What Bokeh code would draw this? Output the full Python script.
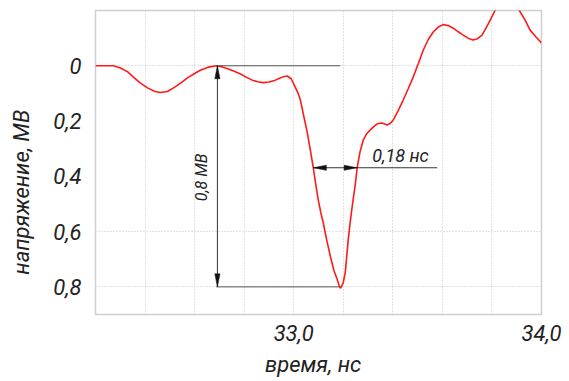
import numpy as np
from bokeh.plotting import figure
from bokeh.models import Range1d, FixedTicker, Label
from bokeh.embed import file_html
from bokeh.resources import INLINE

# time, ns
t_ns = [32.2, 32.273, 32.301, 32.33, 32.353, 32.38, 32.41, 32.44, 32.462, 32.49, 32.515,
        32.545, 32.571, 32.6, 32.623, 32.655, 32.688, 32.712, 32.736, 32.76, 32.785, 32.81,
        32.833, 32.855, 32.877, 32.9, 32.926, 32.945, 32.958, 32.974, 32.99, 33.006, 33.017,
        33.027, 33.04, 33.055, 33.067, 33.079, 33.089, 33.099, 33.109, 33.119, 33.133,
        33.148, 33.162, 33.176, 33.183, 33.188, 33.194, 33.2, 33.208, 33.214, 33.22, 33.228,
        33.236, 33.242, 33.248, 33.256, 33.268, 33.281, 33.295, 33.309, 33.323, 33.337,
        33.357, 33.377, 33.39, 33.402, 33.42, 33.442, 33.462, 33.482, 33.503, 33.523,
        33.543, 33.563, 33.583, 33.603, 33.623, 33.644, 33.664, 33.684, 33.704, 33.724,
        33.742, 33.76, 33.777, 33.793, 33.813, 33.837, 33.861, 33.885, 33.91, 33.934,
        33.954, 33.978, 34.0]
# voltage, MV (drawn downward)
u_mv = [0.0, 0.0, 0.008, 0.022, 0.041, 0.062, 0.08, 0.093, 0.097, 0.093, 0.08,
        0.062, 0.044, 0.028, 0.016, 0.005, 0.0, 0.004, 0.012, 0.02, 0.03, 0.042,
        0.052, 0.058, 0.061, 0.059, 0.052, 0.044, 0.04, 0.037, 0.047, 0.077, 0.098,
        0.124, 0.18, 0.243, 0.305, 0.369, 0.43, 0.485, 0.53, 0.568, 0.63,
        0.69, 0.74, 0.774, 0.795, 0.805, 0.797, 0.784, 0.748, 0.69, 0.629, 0.565,
        0.51, 0.47, 0.434, 0.369, 0.31, 0.268, 0.245, 0.232, 0.22, 0.21,
        0.207, 0.214, 0.208, 0.196, 0.165, 0.124, 0.083, 0.041, -0.008, -0.057,
        -0.095, -0.122, -0.14, -0.149, -0.146, -0.136, -0.123, -0.111, -0.1, -0.093,
        -0.098, -0.111, -0.138, -0.165, -0.201, -0.237, -0.252, -0.237, -0.201, -0.165,
        -0.129, -0.104, -0.083]

x_ticks = [33.0, 34.0]
x_tick_labels = ["33,0", "34,0"]
y_ticks = [0.0, 0.2, 0.4, 0.6, 0.8]
y_tick_labels = ["0", "0,2", "0,4", "0,6", "0,8"]
x_grid = [32.4, 32.6, 32.8, 33.0, 33.2, 33.4, 33.6, 33.8]
y_grid = [0.0, 0.6, 0.8]
x_title = "время, нс"
y_title = "напряжение, МВ"

# dimension annotations
amp_t = [32.688, 33.188]      # horizontal extension lines (start, end)
amp_levels = [0.0, 0.8]
amp_dim_t = 32.692
width_level = 0.369
width_t = [33.079, 33.256]
width_leader_end = 33.579

FONT = "Roboto"
X0, X1 = 32.2, 34.0
Y_BOTTOM, Y_TOP = 0.9, -0.2
NB = "\u00a0"

p = figure(width=569, height=381, output_backend="svg", toolbar_location=None,
           x_range=Range1d(X0, X1), y_range=Range1d(Y_BOTTOM, Y_TOP),
           min_border_left=95, min_border_right=28, min_border_top=10,
           min_border_bottom=67)
p.background_fill_color = "white"
p.border_fill_color = "white"
p.outline_line_color = "#cfcfcf"
p.outline_line_width = 1.5

for ax in (p.xaxis[0], p.yaxis[0]):
    ax.axis_line_color = None
    ax.major_tick_line_color = None
    ax.minor_tick_line_color = None
    ax.major_label_text_font = FONT
    ax.major_label_text_font_style = "italic"
    ax.major_label_text_font_size = "22px"
    ax.major_label_text_color = "#222222"
    ax.axis_label_text_font = FONT
    ax.axis_label_text_font_style = "italic"
    ax.axis_label_text_font_size = "22px"
    ax.axis_label_text_color = "#222222"

p.xaxis.ticker = FixedTicker(ticks=x_ticks)
p.xaxis.major_label_overrides = {t: s for t, s in zip(x_ticks, x_tick_labels)}
p.xaxis.major_label_standoff = 4
p.xaxis.axis_label = x_title + NB * 2
p.xaxis.axis_label_standoff = 8
p.yaxis.ticker = FixedTicker(ticks=y_ticks)
p.yaxis.major_label_overrides = {t: s for t, s in zip(y_ticks, y_tick_labels)}
p.yaxis.major_label_standoff = 8
p.yaxis.axis_label = y_title + NB * 11
p.yaxis.axis_label_standoff = 16

p.xgrid.ticker = FixedTicker(ticks=x_grid)
p.ygrid.ticker = FixedTicker(ticks=y_grid)
for g in (p.xgrid[0], p.ygrid[0]):
    g.grid_line_color = "#c4c4c4"
    g.grid_line_dash = "1 2"
    g.grid_line_width = 1

# curve
p.line(t_ns, u_mv, line_color="#ff1a1a", line_width=1.6)

# dimension lines
dark = "#333333"
for lv in amp_levels:
    p.line([amp_t[0], amp_t[1]], [lv, lv], line_color="#555555", line_width=1)
p.line([amp_dim_t, amp_dim_t], amp_levels, line_color=dark, line_width=1)
p.line([width_t[0], width_leader_end], [width_level, width_level], line_color=dark, line_width=1)

kx = 446.0 / (X1 - X0)
ky = 304.0 / (Y_BOTTOM - Y_TOP)
hl, hw = 13.0, 2.6
xs_heads = [
    [amp_dim_t, amp_dim_t - hw / kx, amp_dim_t + hw / kx],
    [amp_dim_t, amp_dim_t - hw / kx, amp_dim_t + hw / kx],
    [width_t[0], width_t[0] + hl / kx, width_t[0] + hl / kx],
    [width_t[1], width_t[1] - hl / kx, width_t[1] - hl / kx],
]
ys_heads = [
    [amp_levels[0], amp_levels[0] + hl / ky, amp_levels[0] + hl / ky],
    [amp_levels[1], amp_levels[1] - hl / ky, amp_levels[1] - hl / ky],
    [width_level, width_level - hw / ky, width_level + hw / ky],
    [width_level, width_level - hw / ky, width_level + hw / ky],
]
p.patches(xs_heads, ys_heads, fill_color="#111111", line_color="#111111", line_width=0.5)

lab_kw = dict(text_font=FONT, text_font_style="italic", text_color="#222222",
              text_align="center", text_baseline="middle")
p.add_layout(Label(x=32.628, y=0.404, text="0,8 МВ", angle=np.pi / 2,
                   text_font_size="16px", **lab_kw))
p.add_layout(Label(x=33.431, y=0.3245, text="0,18 нс", text_font_size="18px", **lab_kw))

open("out.html", "w").write(file_html(p, INLINE))
